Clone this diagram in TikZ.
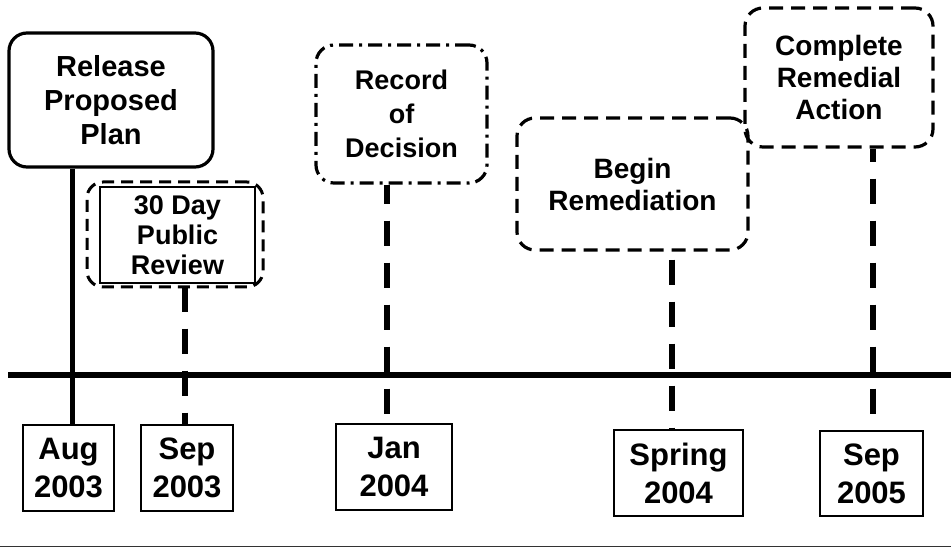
\documentclass[tikz,border=0pt]{standalone}
\usepackage{fontspec}
\setmainfont{Liberation Sans}
\begin{document}
\begin{tikzpicture}[x=1pt,y=-1pt,
  evt/.style={align=center, inner sep=0pt, font=\fontsize{28}{33}\selectfont\bfseries, line width=3.2pt, rounded corners=18pt},
  solidbox/.style={evt, draw},
  dashbox/.style={evt, draw, dash pattern=on 14pt off 8pt},
  dashdotbox/.style={evt, draw, dash pattern=on 14pt off 6pt on 3pt off 6pt},
  datebox/.style={draw, line width=1.2pt, align=center, inner sep=0pt, font=\fontsize{31}{38}\selectfont\bfseries},
  stem/.style={line width=6.5pt, dash pattern=on 25pt off 17pt},
]
\useasboundingbox (0,0) rectangle (951,548);

% event boxes
\node[solidbox, minimum width=204pt, minimum height=134pt, font=\fontsize{29}{34}\selectfont\bfseries] (rel) at (111,100) {Release\\Proposed\\Plan};
\node[draw, line width=1.2pt, minimum width=155pt, minimum height=96pt, align=center, inner sep=0pt,
      font=\fontsize{27}{30}\selectfont\bfseries] (pub) at (177.5,235) {30 Day\\Public\\Review};
\node[draw, line width=3pt, rounded corners=16pt, dash pattern=on 12pt off 7pt,
      minimum width=176pt, minimum height=105pt] (puo) at (175,234.5) {};
\node[dashdotbox, minimum width=171pt, minimum height=138pt, font=\fontsize{27}{34}\selectfont\bfseries] (rod) at (401.5,114) {Record\\of\\Decision};
\node[dashbox, minimum width=231pt, minimum height=132pt, font=\fontsize{28}{32}\selectfont\bfseries] (beg) at (632.5,184) {Begin\\Remediation};
\node[dashbox, minimum width=188pt, minimum height=139pt, font=\fontsize{28}{32}\selectfont\bfseries] (cra) at (839,77.5) {Complete\\Remedial\\Action};

% date boxes
\node[datebox, minimum width=91pt, minimum height=86pt] (aug) at (68.5,468) {Aug\\2003};
\node[datebox, minimum width=92pt, minimum height=86pt] (sepa) at (187,468) {Sep\\2003};
\node[datebox, minimum width=116pt, minimum height=86pt] (jan) at (394,467) {Jan\\2004};
\node[datebox, minimum width=129pt, minimum height=86pt] (spr) at (678.5,473) {Spring\\2004};
\node[datebox, minimum width=103pt, minimum height=85pt] (sepb) at (871.5,473.5) {Sep\\2005};

% timeline
\coordinate (tl) at (8,375);
\coordinate (tr) at (951,375);
\draw[line width=6pt] (tl) -- (tr);

% stems
\coordinate (xa) at (72,0);
\coordinate (xs) at (185,0);
\coordinate (xj) at (387,0);
\coordinate (xp) at (672,0);
\coordinate (xc) at (873,0);
\draw[line width=5pt] (xa |- rel.south) -- (xa |- aug.north);
\draw[stem, dash phase=2pt] (xs |- puo.south) -- (xs |- sepa.north);
\draw[stem, dash phase=6pt] (xj |- rod.south) -- (xj |- jan.north);
\draw[stem, dash phase=34pt] (xp |- beg.south) -- (xp |- spr.north);
\draw[stem, dash phase=12pt] (xc |- cra.south) -- (xc |- sepb.north);

% bottom rule
\coordinate (bl) at (0,546.5);
\coordinate (br) at (951,546.5);
\draw[line width=1.5pt, black!80] (bl) -- (br);
\end{tikzpicture}
\end{document}
